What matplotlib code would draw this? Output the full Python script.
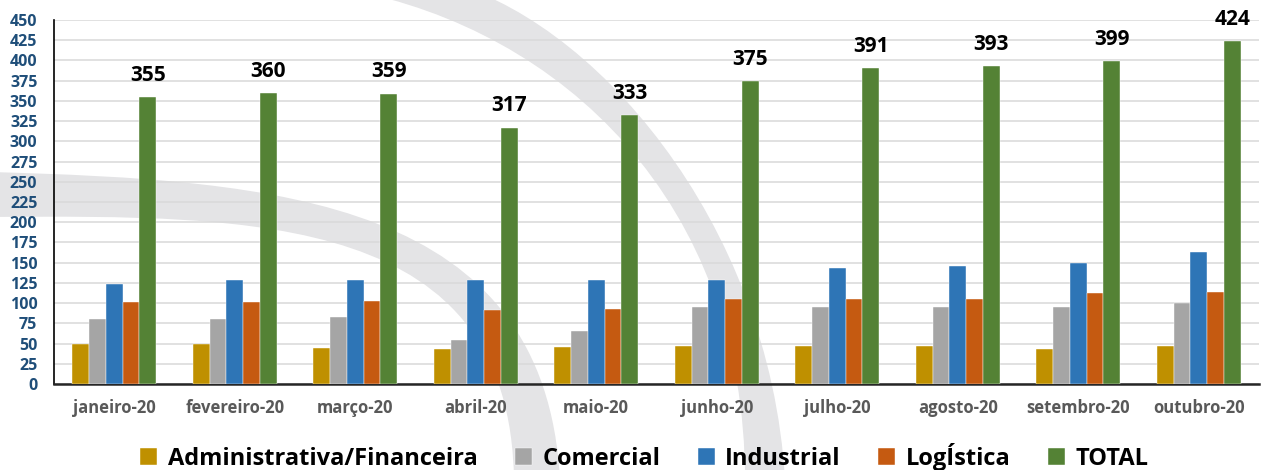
import numpy as np
import matplotlib.pyplot as plt
from matplotlib.path import Path
from matplotlib.patches import PathPatch

plt.rcParams['font.family'] = ['Open Sans', 'DejaVu Sans']

# data
months = ['janeiro-20', 'fevereiro-20', 'março-20', 'abril-20', 'maio-20',
          'junho-20', 'julho-20', 'agosto-20', 'setembro-20', 'outubro-20']
admin = [50, 50, 45, 43, 46, 47, 47, 47, 43, 47]
comercial = [80, 80, 83, 54, 66, 95, 95, 95, 95, 100]
industrial = [124, 129, 128, 128, 128, 128, 144, 146, 149, 163]
logistica = [101, 101, 103, 92, 93, 105, 105, 105, 112, 114]
total = [355, 360, 359, 317, 333, 375, 391, 393, 399, 424]

series_names = ['Administrativa/Financeira', 'Comercial', 'Industrial', 'LogÍstica', 'TOTAL']
colors = ['#BF9000', '#A5A5A5', '#2E75B6', '#C55A11', '#548235']

W, H = 1261, 470
fig = plt.figure(figsize=(W / 100, H / 100), dpi=100)
ax = fig.add_axes([54 / W, 1 - 384 / H, (1259 - 54) / W, (384 - 20) / H])
ax.set_zorder(1)
ax.patch.set_alpha(0)


# background watermark (two grey swooshes), pixel coords from top-left
def px(x, y):
    return (x / W, 1 - y / H)


def band(outer, inner):
    pts = [px(*p) for p in outer] + [px(*p) for p in inner]
    codes = [Path.MOVETO] + [Path.CURVE4] * 3 + [Path.LINETO] + [Path.CURVE4] * 3
    pts.append(pts[0])
    codes.append(Path.CLOSEPOLY)
    return PathPatch(Path(pts, codes), transform=fig.transFigure,
                     facecolor='#E4E4E6', edgecolor='none', zorder=0)


fig.patches.append(band([(440, -20), (590, 15), (770, 220), (785, 480)],
                        [(745, 480), (745, 200), (560, 30), (350, -10)]))
fig.patches.append(band([(-10, 172), (280, 180), (545, 200), (560, 480)],
                        [(514, 480), (510, 215), (260, 215), (-10, 217)]))

x = np.arange(len(months))
w = 0.139
all_series = [admin, comercial, industrial, logistica, total]
for i, (vals, name, c) in enumerate(zip(all_series, series_names, colors)):
    bars = ax.bar(x + (i - 2) * w, vals, w, color=c, label=name, zorder=3,
                  edgecolor='white', linewidth=0.3)
    if name == 'TOTAL':
        for b, v in zip(bars, vals):
            ax.annotate(str(v), (b.get_x() + b.get_width() / 2, v),
                        xytext=(0, 8), textcoords='offset points',
                        ha='center', va='bottom', fontsize=15, fontweight='bold',
                        color='black', annotation_clip=False)

ax.set_xlim(-0.5, len(months) - 0.5)
ax.set_ylim(0, 450)
ax.set_yticks(np.arange(0, 451, 25))
ax.set_xticks(x)
ax.set_xticklabels(months)
ax.grid(axis='y', color='#D9D9D9', linewidth=1.1, zorder=0)
ax.set_axisbelow(True)

for lab in ax.get_yticklabels():
    lab.set_fontweight('bold')
    lab.set_color('#1F4E79')
    lab.set_fontsize(11.5)
for lab in ax.get_xticklabels():
    lab.set_fontweight('bold')
    lab.set_color('#595959')
    lab.set_fontsize(12)
ax.tick_params(axis='both', length=0)
ax.tick_params(axis='y', pad=12)
ax.tick_params(axis='x', pad=11)

ax.spines['top'].set_visible(False)
ax.spines['right'].set_visible(False)
ax.spines['left'].set_color('black')
ax.spines['left'].set_linewidth(1.2)
ax.spines['bottom'].set_color('#262626')
ax.spines['bottom'].set_linewidth(1.8)

leg = fig.legend(loc='center', bbox_to_anchor=(0.511, 1 - 457 / H), ncol=5,
                 frameon=False, handlelength=0.7, handleheight=0.7,
                 handletextpad=0.45, columnspacing=1.6,
                 prop={'size': 17, 'weight': 'bold'})

fig.savefig('out.png', dpi=100)
